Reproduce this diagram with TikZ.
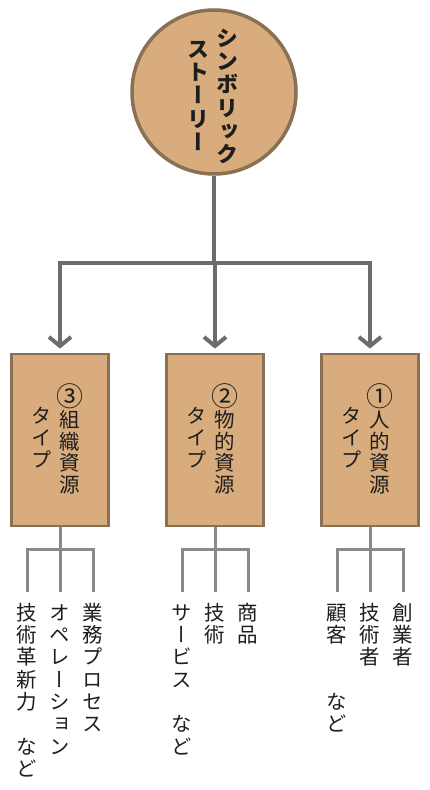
\documentclass[tikz,border=0pt]{standalone}
\usepackage{fontspec}
\usetikzlibrary{arrows.meta}
\newfontfamily\jp[RawFeature=+vert]{Noto Sans CJK JP}
\definecolor{tan}{RGB}{216,172,124}
\definecolor{tanedge}{RGB}{138,112,84}
\definecolor{mainline}{RGB}{108,108,108}
\definecolor{subline}{RGB}{138,138,138}
\definecolor{ink}{RGB}{30,30,30}
\newdimen\tpitch
\makeatletter
\newcommand\tate[2]{\vbox{\offinterlineskip\tpitch=#1\relax\tate@#2\relax}}
\def\tate@#1{\ifx\relax#1\else\hbox to\tpitch{\hss\vrule height .86\tpitch depth .14\tpitch width 0pt #1\hss}\expandafter\tate@\fi}
\makeatother
\newcommand\bignum[1]{{\fontsize{27}{27}\selectfont\raisebox{-0.5pt}{#1}}}
\tikzset{
  bubble/.style={circle, draw=tanedge, line width=3.5pt, fill=tan, minimum size=164pt, inner sep=0},
  typebox/.style={rectangle, draw=tanedge, line width=2.8pt, fill=tan, minimum width=97pt, minimum height=172pt, inner sep=0},
  ctext/.style={anchor=north, inner sep=0, text=ink, font=\jp\bfseries\fontsize{22}{22}\selectfont},
  btext/.style={anchor=north, inner sep=0, text=ink, font=\jp\fontsize{20.5}{21}\selectfont},
  ltext/.style={anchor=north, inner sep=0, text=ink, font=\jp\fontsize{20.5}{21}\selectfont},
  mainconn/.style={draw=mainline, line width=4pt},
  mainarrow/.style={mainconn, -{Straight Barb[length=9pt,width=22pt]}},
  subconn/.style={draw=subline, line width=3pt}
}
\begin{document}
\begin{tikzpicture}[x=1pt,y=-1pt]
\useasboundingbox (0,0) rectangle (430,790);
\fill[white] (0,0) rectangle (430,790);
% top circle
\node[bubble] (C) at (214,92) {};
\node[ctext] (Ca) at (227,26) {\tate{23.3pt}{シンボリック}};
\node[ctext] (Cb) at (198,37) {\tate{23.3pt}{ストーリー}};
% boxes
\node[typebox] (B3) at (60,440) {};
\node[typebox] (B2) at (215,440) {};
\node[typebox] (B1) at (370,440) {};
\node[btext] (B3a) at (70,383) {\tate{21.8pt}{{\bignum③}組織資源}};
\node[btext] (B3b) at (42,383) {\tate{21.8pt}{　タイプ}};
\node[btext] (B2a) at (225,383) {\tate{21.8pt}{{\bignum②}物的資源}};
\node[btext] (B2b) at (197,383) {\tate{21.8pt}{　タイプ}};
\node[btext] (B1a) at (380,383) {\tate{21.8pt}{{\bignum①}人的資源}};
\node[btext] (B1b) at (352,383) {\tate{21.8pt}{　タイプ}};
% main connectors
\coordinate (J) at (214,263);
\draw[mainconn] (C.south) -- (J);
\draw[mainarrow] (J) -| ([yshift=4pt]B3.north);
\draw[mainarrow] (J) -| ([yshift=4pt]B2.north);
\draw[mainarrow] (J) -| ([yshift=4pt]B1.north);
% leaves
\node[ltext] (L3a) at (27,601) {\tate{22.3pt}{技術革新力　など}};
\node[ltext] (L3b) at (60,601) {\tate{22.3pt}{オペレーション}};
\node[ltext] (L3c) at (93,601) {\tate{22.3pt}{業務プロセス}};
\node[ltext] (L2a) at (182,601) {\tate{22.3pt}{サービス　など}};
\node[ltext] (L2b) at (215,601) {\tate{22.3pt}{技術}};
\node[ltext] (L2c) at (248,601) {\tate{22.3pt}{商品}};
\node[ltext] (L1a) at (337,601) {\tate{22.3pt}{顧客　　など}};
\node[ltext] (L1b) at (370,601) {\tate{22.3pt}{技術者}};
\node[ltext] (L1c) at (403,601) {\tate{22.3pt}{創業者}};
% sub connectors
\coordinate (T3) at (60,558);
\coordinate (T2) at (215,558);
\coordinate (T1) at (370,558);
\draw[subconn] (B3.south) -- (T3);
\draw[subconn] (B2.south) -- (T2);
\draw[subconn] (B1.south) -- (T1);
\draw[subconn] ([yshift=9pt]L3a.north) |- ([yshift=9pt]L3c.north |- T3) -- ([yshift=9pt]L3c.north);
\draw[subconn] (T3) -- ([yshift=9pt]L3b.north);
\draw[subconn] ([yshift=9pt]L2a.north) |- ([yshift=9pt]L2c.north |- T2) -- ([yshift=9pt]L2c.north);
\draw[subconn] (T2) -- ([yshift=9pt]L2b.north);
\draw[subconn] ([yshift=9pt]L1a.north) |- ([yshift=9pt]L1c.north |- T1) -- ([yshift=9pt]L1c.north);
\draw[subconn] (T1) -- ([yshift=9pt]L1b.north);
\end{tikzpicture}
\end{document}
